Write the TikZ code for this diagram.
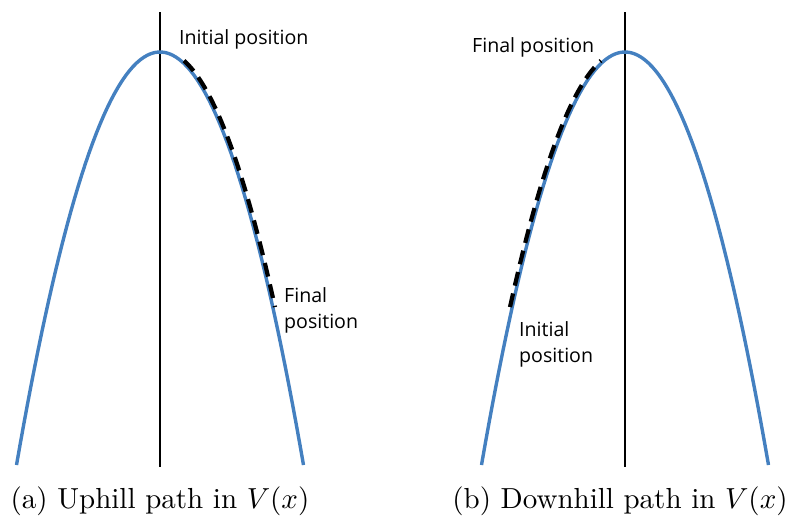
\documentclass[tikz,border=0pt]{standalone}
\usepackage{fontspec}
\newfontfamily\lblfont{Open Sans}
\usepackage{tikz}
\definecolor{curveblue}{RGB}{68,128,192}

\begin{document}
\begin{tikzpicture}[
  x=1pt, y=-1pt,
  curve/.style={draw=curveblue, line width=3.4pt},
  axis/.style={draw=black, line width=1.8pt},
  trail/.style={draw=black, line width=4.2pt, dash pattern=on 14pt off 8pt},
  lbl/.style={font=\lblfont\fontsize{19.6}{26}\selectfont, align=left, inner sep=0pt},
  captxt/.style={font=\normalsize, scale=2.9, inner sep=0pt}
]
\useasboundingbox (0,0) rectangle (792,517);

% (a) uphill
\draw[axis] (160,12) -- (160,467);
\draw[curve] plot[domain=-143.5:143.5, samples=80] ({160+\x},{52+413*(\x/143.5)^2});
\draw[trail] plot[domain=22:113, samples=40] ({162+\x},{51+413*(\x/143.5)^2});
\node[lbl, anchor=base west] (initA) at (179,44) {Initial position};
\node[lbl, anchor=base west] (finA) at (284,328) {Final\\position};
\node[captxt, anchor=base] (capA) at (160,508) {(a) Uphill path in $V(x)$};

% (b) downhill
\draw[axis] (625,12) -- (625,467);
\draw[curve] plot[domain=-143.5:143.5, samples=80] ({625+\x},{52+413*(\x/143.5)^2});
\draw[trail] plot[domain=-113:-22, samples=40] ({623+\x},{51+413*(\x/143.5)^2});
\node[lbl, anchor=base west] (finB) at (472,52) {Final position};
\node[lbl, anchor=base west] (initB) at (519,362) {Initial\\position};
\node[captxt, anchor=base] (capB) at (620,508) {(b) Downhill path in $V(x)$};
\end{tikzpicture}
\end{document}
